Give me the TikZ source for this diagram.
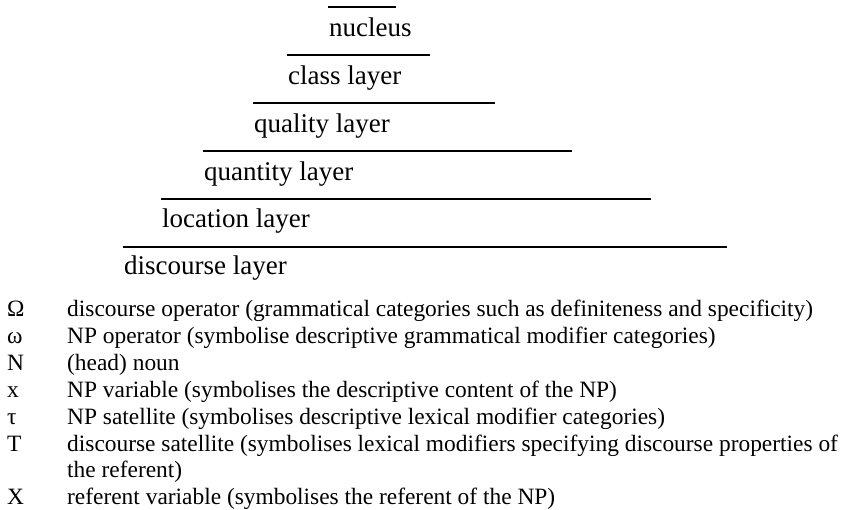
\documentclass[tikz,border=0pt]{standalone}
\usepackage{fontspec}
\setmainfont{Liberation Serif}
\begin{document}
\begin{tikzpicture}[x=1pt,y=-1pt,
  layerline/.style={line width=1.9pt},
  lab/.style={anchor=base west,inner sep=0pt,font=\fontsize{27}{31}\selectfont},
  sym/.style={anchor=base west,inner sep=0pt,font=\fontsize{23.4}{27}\selectfont},
  desc/.style={anchor=base west,inner sep=0pt,font=\fontsize{23.4}{27}\selectfont}]
\useasboundingbox (0,0) rectangle (847,510);
% layer lines
\coordinate (l1a) at (328,7.3);   \coordinate (l1b) at (396,7.3);
\coordinate (l2a) at (287,55.2);  \coordinate (l2b) at (430,55.2);
\coordinate (l3a) at (253,103.1); \coordinate (l3b) at (495,103.1);
\coordinate (l4a) at (203,151);   \coordinate (l4b) at (572,151);
\coordinate (l5a) at (161,198.9); \coordinate (l5b) at (651,198.9);
\coordinate (l6a) at (123,246.8); \coordinate (l6b) at (727,246.8);
\foreach \i in {1,...,6}{\draw[layerline] (l\i a) -- (l\i b);}
% layer labels
\node[lab] (nuc) at (329,37) {nucleus};
\node[lab] (cla) at (288,85) {class layer};
\node[lab] (qua) at (254,133) {quality layer};
\node[lab] (qty) at (204,180.5) {quantity layer};
\node[lab] (loc) at (162,228) {location layer};
\node[lab] (dis) at (124,275) {discourse layer};
% legend
\node[sym] (s1) at (7,317) {Ω};
\node[desc] (d1) at (67,317) {discourse operator (grammatical categories such as definiteness and specificity)};
\node[sym] (s2) at (7,344) {ω};
\node[desc] (d2) at (67,344) {NP operator (symbolise descriptive grammatical modifier categories)};
\node[sym] (s3) at (7,371) {N};
\node[desc] (d3) at (67,371) {(head) noun};
\node[sym] (s4) at (7,398) {x};
\node[desc] (d4) at (67,398) {NP variable (symbolises the descriptive content of the NP)};
\node[sym] (s5) at (7,425) {τ};
\node[desc] (d5) at (67,425) {NP satellite (symbolises descriptive lexical modifier categories)};
\node[sym] (s6) at (7,452) {T};
\node[desc] (d6) at (67,452) {discourse satellite (symbolises lexical modifiers specifying discourse properties of};
\node[desc] (d6b) at (67,478) {the referent)};
\node[sym] (s7) at (7,505) {X};
\node[desc] (d7) at (67,505) {referent variable (symbolises the referent of the NP)};
\end{tikzpicture}
\end{document}
